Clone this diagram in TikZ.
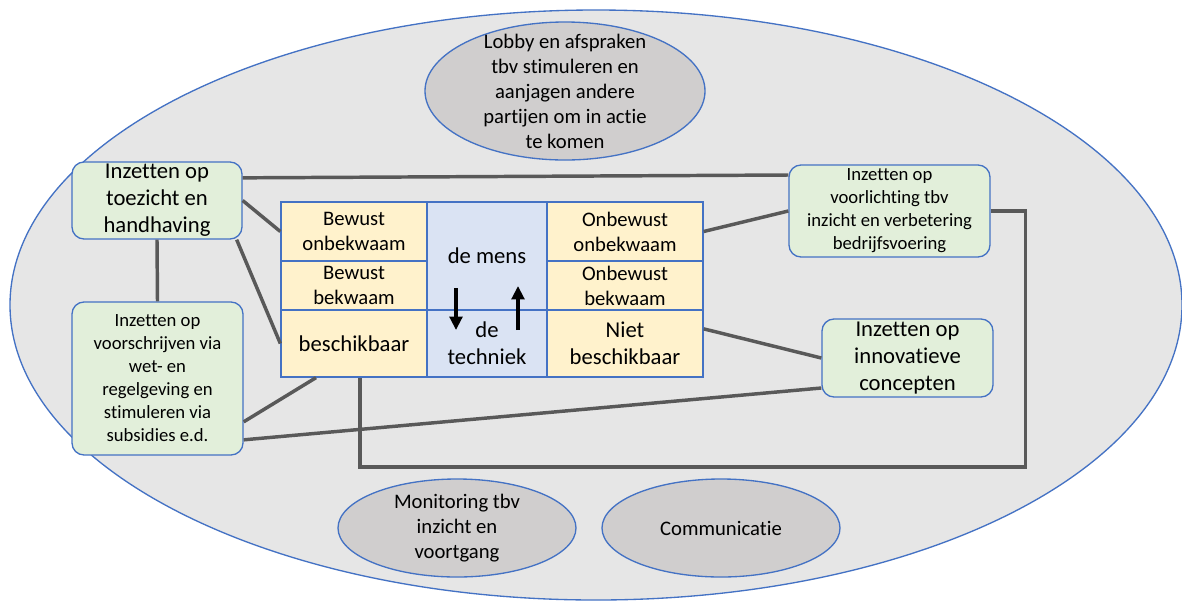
\documentclass[tikz,border=0pt]{standalone}
\usepackage{fontspec}
\setmainfont{Carlito}[Ligatures=CommonOff]
\usetikzlibrary{arrows.meta}

\definecolor{bggray}{HTML}{E6E6E6}
\definecolor{ovalgray}{HTML}{D0CECE}
\definecolor{rimblue}{HTML}{4472C4}
\definecolor{boxgreen}{HTML}{E2EFDA}
\definecolor{cellyellow}{HTML}{FFF2CC}
\definecolor{cellblue}{HTML}{DAE3F3}
\definecolor{linkgray}{HTML}{595959}

\tikzset{
	txtS/.style={font=\fontsize{14}{17.25}\selectfont},
	txtM/.style={font=\fontsize{15.5}{18.75}\selectfont},
	txtL/.style={font=\fontsize{17}{20.25}\selectfont},
	action/.style={draw=rimblue, fill=boxgreen, line width=1pt, rounded corners=9pt, align=center, inner sep=0pt},
	cell/.style={draw=rimblue, fill=cellyellow, line width=1pt, align=center, inner sep=0pt},
	oval/.style={draw=rimblue, fill=ovalgray, line width=1pt},
	link/.style={draw=linkgray, line width=2.6pt},
	flow/.style={-{Triangle[length=10pt,width=9.5pt]}, line width=2.4pt}
}

\begin{document}
\begin{tikzpicture}[x=0.75pt, y=-0.75pt]
	\useasboundingbox (0,0) rectangle (1182,601);
	\def \colL {109.5pt}
	\def \colM {90pt}
	\def \colR {117pt}
	
	% backdrop and ovals
	\filldraw[oval, fill=bggray] (596,305) ellipse [x radius=439.5pt, y radius=221.25pt];
	\filldraw[oval] (565,91) ellipse [x radius=105pt, y radius=51.75pt];
	\filldraw[oval] (457,528) ellipse [x radius=89.25pt, y radius=36.75pt];
	\filldraw[oval] (721,528) ellipse [x radius=89.25pt, y radius=36.75pt];
	\node(lobby)[txtM, align=center] at (565,91) {Lobby en afspraken\\tbv stimuleren en\\aanjagen andere\\partijen om in actie\\te komen};
	\node(monitoring)[txtM, align=center] at (457,528) {Monitoring tbv\\inzicht en\\voortgang};
	\node(communicatie)[txtM] at (721,528) {Communicatie};
	
	% matrix
	\node(c11)[cell, txtM, minimum width=\colL, minimum height=44.25pt] at (354,231.5) {Bewust\\onbekwaam};
	\node(c21)[cell, txtM, minimum width=\colL, minimum height=36.75pt] at (354,285.5) {Bewust\\bekwaam};
	\node(c31)[cell, txtL, minimum width=\colL, minimum height=50.25pt] at (354,343.5) {beschikbaar};
	\node(mens)[cell, fill=cellblue, txtL, minimum width=\colM, minimum height=81pt] at (487,256) {de mens};
	\node(techniek)[cell, fill=cellblue, txtL, minimum width=\colM, minimum height=50.25pt] at (487,343.5) {de\\techniek};
	\node(c13)[cell, txtM, minimum width=\colR, minimum height=44.25pt] at (625,231.5) {Onbewust\\onbekwaam};
	\node(c23)[cell, txtM, minimum width=\colR, minimum height=36.75pt] at (625,285.5) {Onbewust\\bekwaam};
	\node(c33)[cell, txtL, minimum width=\colR, minimum height=50.25pt] at (625,343.5) {Niet\\beschikbaar};
	
	\coordinate(dnA) at (456,288); \coordinate(dnB) at (456,330);
	\coordinate(upA) at (518,330); \coordinate(upB) at (518,286);
	\draw[flow] (dnA) -- (dnB);
	\draw[flow] (upA) -- (upB);
	
	% actions
	\node(toezicht)[action, txtL, minimum width=127.5pt, minimum height=57.75pt] at (157,200.5) {Inzetten op\\toezicht en\\handhaving};
	\node(voorlichting)[action, txtS, minimum width=150.75pt, minimum height=69pt] at (889.5,211) {Inzetten op\\voorlichting tbv\\inzicht en verbetering\\bedrijfsvoering};
	\node(voorschrijven)[action, txtS, minimum width=128.25pt, minimum height=114.75pt] at (157.5,378.5) {Inzetten op\\voorschrijven via\\wet- en\\regelgeving en\\stimuleren via\\subsidies e.d.};
	\node(innovatief)[action, txtL, minimum width=128.25pt, minimum height=58.5pt] at (907.5,358) {Inzetten op\\innovatieve\\concepten};
	
	\draw[link] ([yshift=17pt]toezicht.east) -- ([yshift=27pt]voorlichting.west);
	\draw[link] (toezicht.east) -- (c11.west);
	\draw[link] ([xshift=-4.5pt]toezicht.south east) -- (c31.west);
	\draw[link] (toezicht.south) -- (voorschrijven.north);
	\draw[link] ([yshift=-32.5pt]voorschrijven.east) -- ([xshift=-28.5pt]c31.south);
	\draw[link] ([yshift=-46pt]voorschrijven.east) -- ([yshift=-22.5pt]innovatief.west);
	\draw[link] ([yshift=11pt]c33.east) -- (innovatief.west);
	\draw[link] (c13.east) -- (voorlichting.west);
	\draw[link] (voorlichting.east) -- ++(35,0) -- ++(0,256) -| ([xshift=4.5pt]c31.south);
\end{tikzpicture}
\end{document}
